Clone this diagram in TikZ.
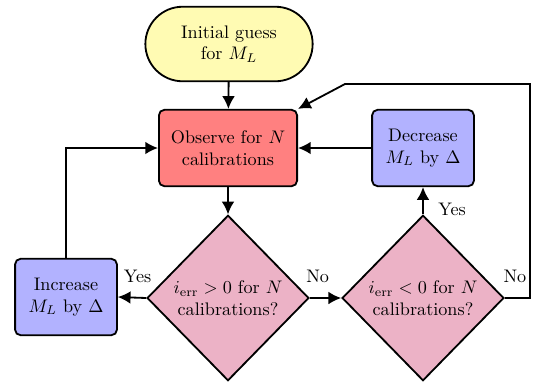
\documentclass[tikz,border=0pt]{standalone}
\usetikzlibrary{shapes.geometric,arrows.meta}
\begin{document}
\begin{tikzpicture}[x=0.55pt,y=-0.55pt,
  every node/.style={align=center},
  base/.style={draw=black,line width=1pt},
  startbox/.style={base,fill=yellow!30,rectangle,rounded corners=20.5pt,minimum width=92pt,minimum height=41pt},
  mainbox/.style={base,fill=red!50,rectangle,rounded corners=3pt,minimum width=76pt,minimum height=42pt},
  adjbox/.style={base,fill=blue!30,rectangle,rounded corners=3pt,minimum width=56pt,minimum height=42pt},
  decision/.style={base,fill=purple!30,diamond,inner sep=0pt,minimum width=89pt,minimum height=91pt},
  flow/.style={line width=1pt,-{Latex[length=7pt,width=7pt]}},
  lbl/.style={inner sep=0pt}]
\useasboundingbox (0,0) rectangle (540,382);

% nodes
\node[startbox] (init) at (229,44) {Initial guess\\for $M_L$};
\node[mainbox] (obs) at (228,148) {Observe for $N$\\calibrations};
\node[adjbox] (dec) at (423,148) {Decrease\\$M_L$ by $\Delta$};
\node[adjbox] (inc) at (66,297) {Increase\\$M_L$ by $\Delta$};
\node[decision] (pos) at (228,298) {$i_{\mathrm{err}}>0$ for $N$\\calibrations?};
\node[decision] (neg) at (423,298) {$i_{\mathrm{err}}<0$ for $N$\\calibrations?};

% bends of the return path
\coordinate (ret1) at (530,84);
\coordinate (ret2) at (345,84);

% connectors
\draw[flow] (init) -- (obs);
\draw[flow] (obs) -- (pos);
\draw[flow] (pos.west) -- node[lbl,above=8pt,pos=0.3]{Yes} (inc.east);
\draw[flow] (pos.east) -- node[lbl,above=8pt,pos=0.25]{No} (neg.west);
\draw[flow] (inc.north) |- (obs.west);
\draw[flow] (neg.north) -- node[lbl,right=8pt,pos=0.2]{Yes} (dec.south);
\draw[flow] (dec.west) -- (obs.east);
\draw[flow] (neg.east) -| node[lbl,above=8pt,pos=0.2]{No} (ret1) -- (ret2) -- (obs.north east);
\end{tikzpicture}
\end{document}
